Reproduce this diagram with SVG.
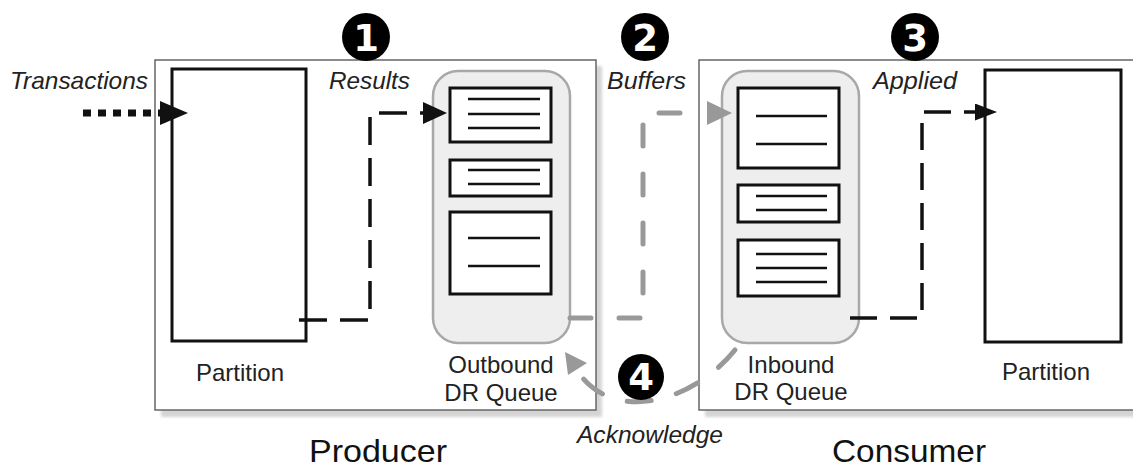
<svg xmlns="http://www.w3.org/2000/svg" width="1133" height="467" viewBox="0 0 1133 467">
<style>
.outer{fill:#fff;stroke:#666;stroke-width:1.5}
.shadow{fill:#d4d4d4}
.part{fill:#fff;stroke:#111;stroke-width:3}
.queue{fill:#eeeeee;stroke:#a8a8a8;stroke-width:2.5}
.item{fill:#fff;stroke:#111;stroke-width:3}
.ln{stroke:#111;stroke-width:2.5}
.lbl{font-family:"Liberation Sans",Arial,sans-serif;font-size:24px;fill:#222;text-anchor:middle}
.it{font-family:"Liberation Sans",Arial,sans-serif;font-size:24px;font-style:italic;fill:#222}
.big{font-family:"Liberation Sans",Arial,sans-serif;font-size:32px;fill:#111;text-anchor:middle}
.num circle{fill:#000}
.num text{font-family:"DejaVu Sans",sans-serif;font-weight:bold;font-size:37px;fill:#fff;text-anchor:middle}
.blk{fill:none;stroke:#111;stroke-width:3.5}
.gry{fill:none;stroke:#999;stroke-width:5;stroke-linecap:round}
</style>
<defs>
<filter id="blur" x="-5%" y="-5%" width="110%" height="110%"><feGaussianBlur stdDeviation="1.5"/></filter>
<marker id="mTx" markerUnits="userSpaceOnUse" viewBox="0 0 28 24" markerWidth="28" markerHeight="24" refX="0" refY="12" orient="auto"><path d="M0,0 L28,12 L0,24 z" fill="#111"/></marker>
<marker id="mRes" markerUnits="userSpaceOnUse" viewBox="0 0 24 22" markerWidth="24" markerHeight="22" refX="0" refY="11" orient="auto"><path d="M0,0 L24,11 L0,22 z" fill="#111"/></marker>
<marker id="mApp" markerUnits="userSpaceOnUse" viewBox="0 0 22 17" markerWidth="22" markerHeight="17" refX="0" refY="8.5" orient="auto"><path d="M0,0 L22,8.5 L0,17 z" fill="#111"/></marker>
<marker id="mGry" markerUnits="userSpaceOnUse" viewBox="0 0 25 24" markerWidth="25" markerHeight="24" refX="0" refY="12" orient="auto"><path d="M0,0 L25,12 L0,24 z" fill="#999"/></marker>
</defs>
<rect width="1133" height="467" fill="#fff"/>

<g id="producer">
<rect class="shadow" x="161" y="66" width="441" height="351" filter="url(#blur)"/>
<rect class="outer" x="155" y="60" width="441" height="350"/>
<text class="big" x="378" y="462" textLength="138" lengthAdjust="spacingAndGlyphs">Producer</text>
</g>
<g id="consumer">
<rect class="shadow" x="705" y="66" width="450" height="351" filter="url(#blur)"/>
<rect class="outer" x="699" y="60" width="450" height="350"/>
<text class="big" x="909" y="462" textLength="154" lengthAdjust="spacingAndGlyphs">Consumer</text>
</g>

<g id="producer-partition">
<rect class="part" x="172" y="69" width="134" height="272"/>
<text class="lbl" x="240" y="381">Partition</text>
</g>

<g id="outbound-queue">
<rect class="queue" x="433" y="71" width="137" height="272" rx="25"/>
<rect class="item" x="450" y="88" width="101" height="54"/>
<line class="ln" x1="468" y1="99" x2="540" y2="99"/>
<line class="ln" x1="468" y1="114" x2="540" y2="114"/>
<line class="ln" x1="468" y1="128" x2="540" y2="128"/>
<rect class="item" x="450" y="160" width="101" height="36"/>
<line class="ln" x1="468" y1="170" x2="540" y2="170"/>
<line class="ln" x1="468" y1="184" x2="540" y2="184"/>
<rect class="item" x="450" y="212" width="101" height="82"/>
<line class="ln" x1="468" y1="238" x2="540" y2="238"/>
<line class="ln" x1="468" y1="266" x2="540" y2="266"/>
<text class="lbl" x="501" y="373">Outbound</text>
<text class="lbl" x="501" y="401">DR Queue</text>
</g>

<g id="inbound-queue">
<rect class="queue" x="722" y="71" width="137" height="272" rx="25"/>
<rect class="item" x="738" y="88" width="101" height="80"/>
<line class="ln" x1="756" y1="116" x2="827" y2="116"/>
<line class="ln" x1="756" y1="144" x2="827" y2="144"/>
<rect class="item" x="738" y="185" width="101" height="37"/>
<line class="ln" x1="756" y1="196" x2="827" y2="196"/>
<line class="ln" x1="756" y1="210" x2="827" y2="210"/>
<rect class="item" x="738" y="240" width="101" height="56"/>
<line class="ln" x1="756" y1="254" x2="827" y2="254"/>
<line class="ln" x1="756" y1="268" x2="827" y2="268"/>
<line class="ln" x1="756" y1="282" x2="827" y2="282"/>
<text class="lbl" x="791" y="373">Inbound</text>
<text class="lbl" x="791" y="400">DR Queue</text>
</g>

<g id="consumer-partition">
<rect class="part" x="985" y="70" width="136" height="272"/>
<text class="lbl" x="1046" y="380">Partition</text>
</g>

<g id="connectors">
<path d="M83,113 H160" fill="none" stroke="#111" stroke-width="7" stroke-dasharray="8 7" marker-end="url(#mTx)"/>
<path class="blk" d="M299,320 H370 V113 H423" stroke-dasharray="28 13" marker-end="url(#mRes)"/>
<path class="gry" d="M570,318 H643 V113 H707" stroke-dasharray="21 28" marker-end="url(#mGry)"/>
<path class="blk" stroke-width="3" d="M850,318 H922 V112 H975" stroke-dasharray="27 13" marker-end="url(#mApp)"/>
<path class="gry" d="M735,350 C690,405 615,420 581,376" stroke-dasharray="24 26"/>
<polygon points="565,352 587,363 568,375" fill="#999"/>
</g>

<g id="labels">
<text class="it" x="10" y="89" textLength="138" lengthAdjust="spacingAndGlyphs">Transactions</text>
<text class="it" x="329" y="89" textLength="81" lengthAdjust="spacingAndGlyphs">Results</text>
<text class="it" x="607" y="89" textLength="79" lengthAdjust="spacingAndGlyphs">Buffers</text>
<text class="it" x="873" y="89" textLength="84" lengthAdjust="spacingAndGlyphs">Applied</text>
<text class="it" x="577" y="443" textLength="146" lengthAdjust="spacingAndGlyphs">Acknowledge</text>
</g>

<g id="step1" class="num"><circle cx="366" cy="37" r="24"/><text x="366" y="51">1</text></g>
<g id="step2" class="num"><circle cx="645" cy="37" r="24"/><text x="645" y="51">2</text></g>
<g id="step3" class="num"><circle cx="915" cy="37" r="24"/><text x="915" y="51">3</text></g>
<g id="step4" class="num"><circle cx="641" cy="377" r="23"/><text x="641" y="390">4</text></g>
</svg>
